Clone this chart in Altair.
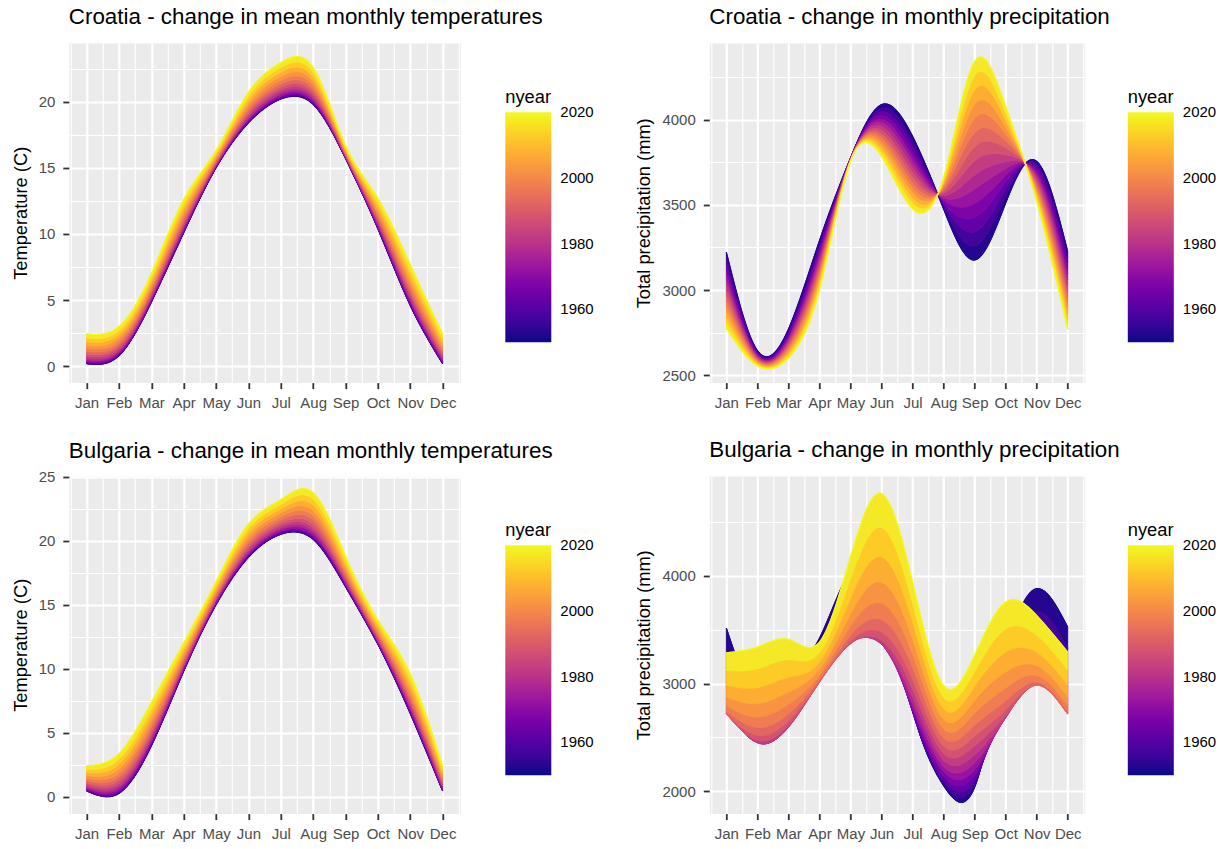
import altair as alt
import pandas as pd

FONT = "Liberation Sans"

months = ["Jan", "Feb", "Mar", "Apr", "May", "Jun", "Jul", "Aug", "Sep", "Oct", "Nov", "Dec"]
years = [1950, 1955, 1960, 1965, 1970, 1975, 1980, 1985, 1990, 1995, 2000, 2005, 2010, 2015, 2020]
legend_years = [1960, 1980, 2000, 2020]

# Each table: one row per month (Jan..Dec), one column per year in `years`.
cro_temp = [
    [0.2, 0.21, 0.25, 0.3, 0.38, 0.49, 0.61, 0.76, 0.94, 1.13, 1.35, 1.59, 1.85, 2.14, 2.45],
    [0.8, 0.81, 0.85, 0.9, 0.98, 1.08, 1.2, 1.35, 1.52, 1.71, 1.92, 2.16, 2.42, 2.7, 3.0],
    [4.85, 4.86, 4.89, 4.95, 5.03, 5.12, 5.25, 5.39, 5.55, 5.74, 5.95, 6.18, 6.43, 6.7, 7.0],
    [10.1, 10.11, 10.15, 10.22, 10.3, 10.42, 10.56, 10.73, 10.92, 11.13, 11.38, 11.64, 11.94, 12.26, 12.6],
    [15.0, 15.01, 15.03, 15.06, 15.11, 15.17, 15.24, 15.33, 15.42, 15.54, 15.66, 15.8, 15.96, 16.12, 16.3],
    [18.4, 18.41, 18.45, 18.51, 18.59, 18.69, 18.82, 18.98, 19.15, 19.35, 19.57, 19.82, 20.09, 20.38, 20.7],
    [20.2, 20.21, 20.26, 20.33, 20.42, 20.55, 20.71, 20.89, 21.1, 21.34, 21.6, 21.9, 22.22, 22.57, 22.95],
    [19.8, 19.81, 19.86, 19.93, 20.03, 20.16, 20.31, 20.5, 20.71, 20.96, 21.23, 21.53, 21.86, 22.21, 22.6],
    [15.7, 15.71, 15.72, 15.75, 15.78, 15.83, 15.88, 15.95, 16.03, 16.11, 16.21, 16.32, 16.43, 16.56, 16.7],
    [10.4, 10.41, 10.45, 10.51, 10.59, 10.69, 10.82, 10.98, 11.15, 11.35, 11.57, 11.82, 12.09, 12.38, 12.7],
    [4.6, 4.62, 4.66, 4.74, 4.85, 5.0, 5.17, 5.38, 5.61, 5.88, 6.18, 6.51, 6.88, 7.27, 7.7],
    [0.2, 0.21, 0.25, 0.3, 0.38, 0.49, 0.61, 0.76, 0.94, 1.13, 1.35, 1.59, 1.85, 2.14, 2.45],
]

bul_temp = [
    [0.44, 0.45, 0.48, 0.53, 0.6, 0.69, 0.8, 0.93, 1.08, 1.25, 1.44, 1.65, 1.88, 2.13, 2.4],
    [0.25, 0.27, 0.31, 0.39, 0.5, 0.65, 0.82, 1.03, 1.26, 1.53, 1.83, 2.16, 2.53, 2.92, 3.35],
    [3.96, 3.98, 4.03, 4.12, 4.24, 4.39, 4.58, 4.81, 5.06, 5.36, 5.68, 6.05, 6.44, 6.87, 7.34],
    [9.8, 9.81, 9.85, 9.9, 9.98, 10.08, 10.2, 10.35, 10.52, 10.71, 10.92, 11.16, 11.42, 11.7, 12.0],
    [15.0, 15.01, 15.04, 15.08, 15.15, 15.23, 15.33, 15.45, 15.59, 15.74, 15.92, 16.11, 16.32, 16.55, 16.8],
    [18.7, 18.71, 18.75, 18.82, 18.91, 19.03, 19.18, 19.35, 19.55, 19.78, 20.03, 20.31, 20.61, 20.94, 21.3],
    [20.5, 20.51, 20.56, 20.62, 20.72, 20.85, 21.0, 21.18, 21.38, 21.62, 21.88, 22.17, 22.48, 22.83, 23.2],
    [20.1, 20.12, 20.17, 20.27, 20.4, 20.57, 20.77, 21.01, 21.29, 21.61, 21.96, 22.35, 22.78, 23.25, 23.75],
    [16.4, 16.41, 16.45, 16.51, 16.6, 16.71, 16.84, 17.0, 17.18, 17.39, 17.62, 17.88, 18.16, 18.47, 18.8],
    [11.9, 11.91, 11.94, 11.99, 12.06, 12.14, 12.25, 12.38, 12.52, 12.69, 12.87, 13.07, 13.3, 13.54, 13.8],
    [6.5, 6.52, 6.56, 6.64, 6.75, 6.9, 7.07, 7.28, 7.51, 7.78, 8.08, 8.41, 8.78, 9.17, 9.6],
    [0.44, 0.45, 0.48, 0.53, 0.6, 0.69, 0.8, 0.93, 1.08, 1.25, 1.44, 1.65, 1.88, 2.13, 2.4],
]

cro_prec = [
    [3221, 3189, 3157, 3125, 3093, 3061, 3029, 2998, 2966, 2934, 2902, 2870, 2838, 2806, 2774],
    [2645, 2639, 2632, 2626, 2619, 2613, 2606, 2600, 2594, 2587, 2581, 2574, 2568, 2561, 2555],
    [2770, 2758, 2746, 2734, 2721, 2709, 2697, 2685, 2673, 2661, 2649, 2636, 2624, 2612, 2600],
    [3290, 3269, 3249, 3228, 3207, 3186, 3166, 3145, 3124, 3104, 3083, 3062, 3041, 3021, 3000],
    [3775, 3774, 3772, 3771, 3769, 3768, 3766, 3765, 3764, 3762, 3761, 3759, 3758, 3756, 3755],
    [4088, 4066, 4045, 4023, 4001, 3980, 3958, 3936, 3914, 3893, 3871, 3849, 3827, 3806, 3784],
    [3902, 3872, 3841, 3811, 3780, 3750, 3720, 3689, 3659, 3628, 3598, 3568, 3537, 3507, 3476],
    [3475, 3488, 3501, 3515, 3528, 3541, 3554, 3568, 3581, 3594, 3607, 3620, 3634, 3647, 3660],
    [3176, 3259, 3342, 3425, 3508, 3592, 3675, 3758, 3841, 3924, 4007, 4090, 4174, 4257, 4340],
    [3510, 3551, 3591, 3632, 3672, 3713, 3753, 3794, 3835, 3875, 3916, 3956, 3997, 4037, 4078],
    [3755, 3738, 3722, 3705, 3688, 3671, 3655, 3638, 3621, 3604, 3588, 3571, 3554, 3538, 3521],
    [3225, 3192, 3160, 3127, 3095, 3062, 3029, 2997, 2964, 2932, 2899, 2867, 2834, 2802, 2769],
]

bul_prec = [
    [3515, 3317, 3147, 3006, 2892, 2806, 2747, 2717, 2715, 2740, 2793, 2875, 2984, 3121, 3286],
    [2850, 2719, 2614, 2534, 2480, 2451, 2448, 2470, 2518, 2591, 2689, 2813, 2963, 3138, 3338],
    [3000, 2871, 2767, 2686, 2631, 2599, 2592, 2609, 2651, 2716, 2806, 2921, 3060, 3222, 3410],
    [3420, 3314, 3224, 3149, 3091, 3049, 3022, 3012, 3017, 3039, 3076, 3129, 3199, 3284, 3385],
    [4060, 3870, 3710, 3580, 3482, 3414, 3376, 3369, 3393, 3447, 3532, 3647, 3793, 3970, 4177],
    [3980, 3778, 3615, 3493, 3410, 3367, 3364, 3400, 3476, 3592, 3747, 3943, 4178, 4452, 4767],
    [2764, 2741, 2735, 2745, 2771, 2815, 2874, 2950, 3043, 3152, 3277, 3419, 3578, 3752, 3944],
    [2049, 2072, 2101, 2138, 2181, 2230, 2287, 2350, 2420, 2497, 2580, 2670, 2767, 2871, 2981],
    [2034, 2061, 2098, 2144, 2199, 2263, 2337, 2420, 2512, 2614, 2725, 2845, 2974, 3113, 3261],
    [3250, 3073, 2929, 2817, 2739, 2693, 2680, 2700, 2753, 2838, 2957, 3108, 3292, 3508, 3758],
    [3882, 3660, 3469, 3310, 3182, 3086, 3020, 2987, 2985, 3014, 3075, 3167, 3291, 3446, 3633],
    [3525, 3325, 3153, 3009, 2894, 2807, 2748, 2717, 2715, 2740, 2794, 2876, 2987, 3125, 3292],
]

# axis break positions (major + minor grid)
x_breaks = [0.5, 1, 1.5, 2, 2.5, 3, 3.5, 4, 4.5, 5, 5.5, 6, 6.5, 7, 7.5, 8, 8.5, 9, 9.5,
            10, 10.5, 11, 11.5, 12, 12.5]
temp_breaks = [0, 2.5, 5, 7.5, 10, 12.5, 15, 17.5, 20, 22.5, 25]
cro_prec_breaks = [2500, 2750, 3000, 3250, 3500, 3750, 4000, 4250]
bul_prec_breaks = [2000, 2500, 3000, 3500, 4000, 4500]

# plasma end colours used for the first / last year edge lines
EDGE_FIRST = "#0D0887"
EDGE_LAST = "#F0F921"


def band_frame(table):
    rows = []
    for k in range(len(years) - 1):
        mid = (years[k] + years[k + 1]) / 2
        for m in range(len(months)):
            rows.append({"month": m + 1, "lo": table[m][k], "hi": table[m][k + 1],
                         "nyear": mid, "edge_year": mid, "band": k})
    return pd.DataFrame(rows)


def line_frame(table, k):
    return pd.DataFrame({"month": list(range(1, 13)),
                         "lo": [table[m][k] for m in range(12)]})


month_expr = "[" + ",".join("'%s'" % m for m in months) + "]"

x_axis = alt.Axis(
    values=x_breaks,
    labelExpr="datum.value % 1 === 0 ? " + month_expr + "[datum.value - 1] : ''",
    grid=True, gridColor="white",
    gridWidth={"condition": {"test": "datum.value % 1 === 0", "value": 2.2}, "value": 1.1},
    tickOpacity={"condition": {"test": "datum.value % 1 === 0", "value": 1}, "value": 0},
    tickSize=6, tickWidth=1.8, tickColor="#333333", domain=False,
    labelPadding=7, labelFontSize=15, labelColor="#4D4D4D", labelFont=FONT,
    labelOverlap=False, labelFlush=False, title=None,
)


def y_axis(breaks, major, title):
    test = "datum.value %% %s === 0" % major
    return alt.Axis(
        values=breaks,
        labelExpr="%s ? format(datum.value, 'd') : ''" % test,
        grid=True, gridColor="white",
        gridWidth={"condition": {"test": test, "value": 2.2}, "value": 1.1},
        tickOpacity={"condition": {"test": test, "value": 1}, "value": 0},
        tickSize=6, tickWidth=1.8, tickColor="#333333", domain=False,
        labelPadding=8, labelFontSize=15, labelColor="#4D4D4D", labelFont=FONT,
        labelOverlap=False, labelFlush=False,
        title=title, titleFontSize=18.3, titleFontWeight="normal", titleColor="black",
        titleFont=FONT, titlePadding=8,
    )


def panel(table, title, ytitle, ydomain, breaks, major, width, height, legend_x, title_offset):
    xenc = alt.X("month:Q", scale=alt.Scale(domain=[0.45, 12.55], nice=False, zero=False),
                 axis=x_axis)
    yscale = alt.Scale(domain=ydomain, nice=False, zero=False)
    yax = y_axis(breaks, major, ytitle)
    cscale = alt.Scale(scheme="plasma", domain=[1950, 2020.01])
    legend = alt.Legend(
        type="gradient", title="nyear", orient="none", legendX=legend_x, legendY=46,
        direction="vertical",
        gradientLength=230, gradientThickness=46, gradientStrokeWidth=0,
        values=legend_years, labelFontSize=15, labelFont=FONT, labelColor="black",
        labelOffset=9, titleFontSize=18.3, titleFont=FONT, titleFontWeight="normal",
        titleColor="black", titlePadding=5, format="d",
    )
    first = alt.Chart(line_frame(table, 0)).mark_line(
        interpolate="natural", strokeWidth=1.2, color=EDGE_FIRST).encode(
        x=xenc, y=alt.Y("lo:Q", scale=yscale, axis=yax),
    )
    area = alt.Chart(band_frame(table)).mark_area(interpolate="natural", strokeWidth=1).encode(
        x=xenc, y=alt.Y("lo:Q", scale=yscale, axis=yax), y2="hi:Q",
        fill=alt.Fill("nyear:Q", scale=cscale, legend=legend),
        stroke=alt.Stroke("edge_year:Q", scale=cscale, legend=None),
        detail="band:N",
    )
    last = alt.Chart(line_frame(table, len(years) - 1)).mark_line(
        interpolate="natural", strokeWidth=1.2, color=EDGE_LAST).encode(
        x=xenc, y=alt.Y("lo:Q", scale=yscale, axis=yax),
    )
    return alt.layer(first, area, last).properties(
        width=width, height=height,
        title=alt.TitleParams(text=title, anchor="start", frame="group", fontSize=22.4,
                              fontWeight="normal", color="black", font=FONT,
                              baseline="alphabetic", offset=title_offset),
    )


p1 = panel(cro_temp, "Croatia - change in mean monthly temperatures", "Temperature (C)",
           [-1.23, 24.43], temp_breaks, 5, 391.6, 339.6, 436.5, -3.6)
p2 = panel(cro_prec, "Croatia - change in monthly precipitation", "Total precipitation (mm)",
           [2457, 4449], cro_prec_breaks, 500, 375.5, 339.6, 418.5, -3.6)
p3 = panel(bul_temp, "Bulgaria - change in mean monthly temperatures", "Temperature (C)",
           [-1.33, 25.05], temp_breaks, 5, 391.6, 337.6, 436.5, -10.3)
p4 = panel(bul_prec, "Bulgaria - change in monthly precipitation", "Total precipitation (mm)",
           [1790, 4930], bul_prec_breaks, 1000, 375.5, 337.6, 418.5, -3.3)

top = alt.hconcat(p1, p2, spacing=39.5).resolve_scale(fill="independent")
bottom = alt.hconcat(p3, p4, spacing=39.5).resolve_scale(fill="independent")

chart = (
    alt.vconcat(top, bottom, spacing=27)
    .resolve_scale(fill="independent")
    .properties(padding={"left": 10.8, "top": 6, "right": 5, "bottom": 5}, background="white")
    .configure(font=FONT)
    .configure_view(fill="#EBEBEB", strokeOpacity=0)
)

chart.save("out.html", embed_options={"renderer": "svg", "actions": False})
